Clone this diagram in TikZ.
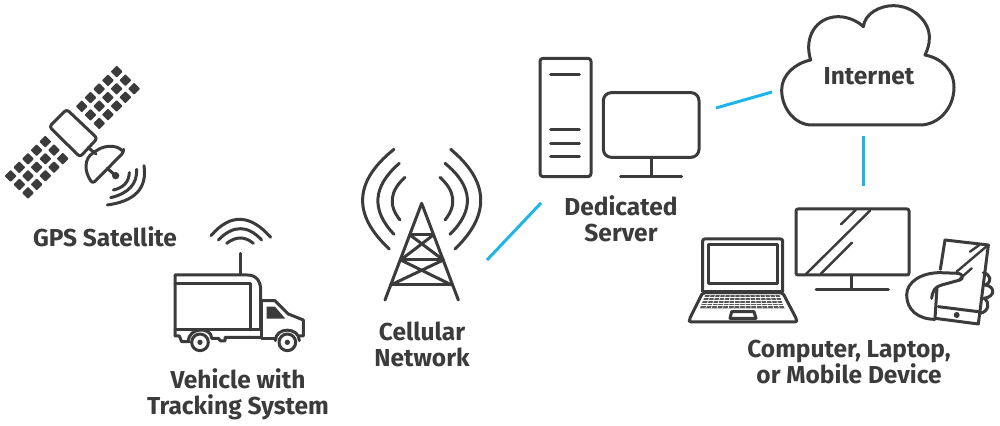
\documentclass[tikz,border=0pt]{standalone}
\usepackage{fontspec}
\usetikzlibrary{calc}
\setmainfont{Fira Sans}
\definecolor{ink}{HTML}{3B3B3B}
\definecolor{link}{HTML}{1FB5E8}
\tikzset{
  icon/.style={draw=ink,line width=1.5pt,line cap=round,line join=round},
  thin icon/.style={draw=ink,line width=1.2pt,line cap=round,line join=round},
  label/.style={text=ink,font=\fontsize{12.25}{13.6}\selectfont\bfseries,align=center,inner sep=0pt},
  connector/.style={draw=link,line width=1.5pt},
  zoomA/.style={shift={(0,20)},scale=1/3},
  zoomB/.style={shift={(160,210)},scale=1/3},
  zoomC/.style={shift={(350,140)},scale=1/3},
  zoomD/.style={shift={(530,50)},scale=1/3},
  zoomE/.style={shift={(770,0)},scale=1/3},
  zoomF/.style={shift={(680,200)},scale=1/3},
}
\newcommand{\panelcell}[2]{\fill[ink,rounded corners=0.4pt] (#1,#2-18) -- (#1+18,#2) -- (#1,#2+18) -- (#1-18,#2) -- cycle;}
\newcommand{\bow}[3]{%
  \coordinate (bowa) at #1; \coordinate (bowm) at #2; \coordinate (bowb) at #3;
  \coordinate (bowq) at ($2*(bowm)-0.5*(bowa)-0.5*(bowb)$);
  \draw[icon] (bowa) .. controls ($(bowa)!0.667!(bowq)$) and ($(bowb)!0.667!(bowq)$) .. (bowb);}
\begin{document}
\begin{tikzpicture}[x=0.5pt,y=-0.5pt]
\useasboundingbox (0,0) rectangle (1000,426);
\fill[white] (0,0) rectangle (1000,426);

% satellite
\begin{scope}[zoomA]
  \foreach \i in {0,...,4}{\foreach \j in {0,1,2}{
    \panelcell{350-26.2*\i+26.2*\j}{155+26*\i+25.5*\j}
    \panelcell{136-26*\i+26*\j}{365+25.7*\i+25.5*\j}
  }}
  \draw[icon,rounded corners=1.5pt] (200,268) -- (292,355) -- (240,411) -- (148,320) -- cycle;
  \draw[icon] (265,383) -- (288,402);
  \draw[icon,rounded corners=1.5pt] (371,397) -- (278,491) .. controls (250,450) and (255,415) .. (285,395) .. controls (315,375) and (350,375) .. (371,397) -- cycle;
  \draw[icon] (322,445) -- (347,467);
  \fill[ink] (347,467) circle (11);
  \bow{(388,458)}{(375,492)}{(340,510)}
  \bow{(410,448)}{(392,502)}{(332,533)}
  \bow{(432,437)}{(412,517)}{(322,555)}
\end{scope}
\node[label] (gps) at (105,237) {GPS Satellite};

% truck
\begin{scope}[zoomB]
  \draw[icon] (241,130) -- (241,192);
  \bow{(200,100)}{(241,84)}{(280,100)}
  \bow{(175,90)}{(241,56)}{(305,90)}
  \bow{(153,77)}{(241,28)}{(332,82)}
  \draw[icon] (45,378) -- (45,195) -- (262,195) .. controls (290,195) and (302,215) .. (302,240) -- (302,360);
  \draw[icon] (45,222) -- (270,222) -- (270,360);
  \draw[icon] (45,360) -- (305,360);
  \draw[icon] (45,378) -- (58,378) -- (65,395) -- (88,395);
  \draw[icon] (85,395) .. controls (85,350) and (155,350) .. (155,385) -- (175,385) -- (182,393) -- (195,393) -- (195,382) -- (305,382);
  \draw[icon] (305,272) -- (345,272) -- (385,312) -- (430,330) -- (430,378) -- (418,378);
  \draw[icon] (305,272) -- (305,386) -- (348,386);
  \draw[icon] (346,392) .. controls (346,350) and (418,350) .. (418,392);
  \fill[ink] (320,290) -- (345,290) -- (376,326) -- (320,326) -- cycle;
  \draw[icon] (120,397) circle (25);
  \fill[ink] (120,397) circle (8);
  \draw[icon] (382,397) circle (25);
  \fill[ink] (382,397) circle (8);
\end{scope}
\node[label] (vehicle) at (238,394.5) {Vehicle with\\[-0.4pt]Tracking System};

% tower
\begin{scope}[zoomC]
  \draw[icon] (105,480) -- (215,190) -- (325,480);
  \draw[icon] (180,285) -- (250,285);
  \draw[icon] (152,360) -- (280,360);
  \draw[icon] (122,435) -- (305,435);
  \draw[icon] (180,285) -- (280,360);
  \draw[icon] (250,285) -- (152,360);
  \draw[icon] (152,360) -- (305,435);
  \draw[icon] (280,360) -- (122,435);
  \bow{(165,112)}{(127,175)}{(150,240)}
  \bow{(148,70)}{(84,175)}{(132,283)}
  \bow{(132,28)}{(38,175)}{(118,327)}
  \bow{(270,112)}{(308,175)}{(285,240)}
  \bow{(285,70)}{(352,175)}{(300,283)}
  \bow{(302,28)}{(392,175)}{(315,327)}
\end{scope}
\node[label] (cell) at (422,344.5) {Cellular\\[-0.4pt]Network};

% server and its monitor
\begin{scope}[zoomD]
  \draw[icon,rounded corners=1.5pt] (30,25) rectangle (183,380);
  \foreach \y in {73,238,280,321} \draw[icon] (62,\y) -- (148,\y);
  \draw[icon,rounded corners=4pt] (220,128) rectangle (507,322);
  \draw[icon] (363,322) -- (363,378);
  \draw[icon] (272,379) -- (455,379);
\end{scope}
\node[label] (server) at (621,219) {Dedicated\\[-0.4pt]Server};

% cloud
\begin{scope}[zoomE]
  \draw[icon] (122,180) .. controls (100,110) and (140,50) .. (205,50) .. controls (235,50) and (265,65) .. (280,80) .. controls (285,40) and (330,17) .. (370,17) .. controls (430,17) and (480,65) .. (478,115) .. controls (478,135) and (472,150) .. (465,165) .. controls (515,175) and (552,210) .. (552,262) .. controls (552,325) and (505,375) .. (450,375) -- (125,375) .. controls (75,375) and (35,325) .. (35,270) .. controls (35,225) and (75,190) .. (122,180) -- cycle;
\end{scope}
\node[label] (internet) at (869,76) {Internet};

% devices
\begin{scope}[zoomF]
  % monitor
  \draw[icon,rounded corners=1pt] (348,27) rectangle (687,225);
  \draw[icon] (515,225) -- (515,268);
  \draw[icon] (408,268) -- (625,268);
  \draw[thin icon] (483,73) -- (527,30);
  \draw[thin icon] (378,222) -- (570,32);
  \draw[thin icon] (422,222) -- (516,128);
  % laptop
  \draw[icon,rounded corners=1pt] (68,275) -- (68,117) -- (308,117) -- (308,275);
  \draw[icon] (86,135) rectangle (293,250);
  \draw[icon] (68,275) -- (308,275);
  \draw[icon,rounded corners=1pt] (68,278) -- (308,278) -- (350,358) -- (350,366) -- (28,366) -- (28,358) -- cycle;
  \fill[ink!85] (76,285) -- (300,285) -- (315,325) -- (60,325) -- cycle;
  \foreach \t in {0.2,0.4,0.6,0.8} \draw[white,line width=0.35pt] (76-16*\t,285+40*\t) -- (300+15*\t,285+40*\t);
  \foreach \t in {1,...,15} \draw[white,line width=0.35pt] (76+14.9*\t,285) -- (60+17*\t,325);
  \draw[icon] (150,355) -- (155,335) -- (222,335) -- (228,355) -- cycle;
  % phone
  \draw[icon] (795,120) -- (925,135) -- (895,372) -- (765,355) -- (771,262);
  \draw[icon] (795,120) -- (781,208);
  \draw[icon] (775,320) -- (895,335);
  \fill[ink] (830,345) circle (9);
  \draw[thin icon] (870,155) -- (898,135);
  \draw[thin icon] (830,215) -- (922,137);
  \draw[thin icon] (838,238) -- (875,205);
  % hand
  \draw[icon] (765,358) .. controls (715,358) and (680,330) .. (680,285) .. controls (680,245) and (725,218) .. (780,218) -- (835,220) .. controls (850,222) and (850,238) .. (840,240) -- (785,255) .. controls (765,260) and (758,272) .. (755,295);
  \draw[icon] (910,218) .. controls (930,222) and (940,245) .. (915,255) .. controls (945,258) and (948,290) .. (912,295) .. controls (930,305) and (928,335) .. (900,340);
\end{scope}
\node[label] (devices) at (849,362) {Computer, Laptop,\\[-0.4pt]or Mobile Device};

% connectors
\coordinate (towerEnd) at (487,260);
\coordinate (serverEnd) at (541,203);
\coordinate (monitorEnd) at (716,108);
\coordinate (cloudLeft) at (772,92);
\coordinate (cloudBottom) at (863,136);
\coordinate (devicesTop) at (863,186);
\draw[connector] (towerEnd) -- (serverEnd);
\draw[connector] (monitorEnd) -- (cloudLeft);
\draw[connector] (cloudBottom) -- (devicesTop);
\end{tikzpicture}
\end{document}
